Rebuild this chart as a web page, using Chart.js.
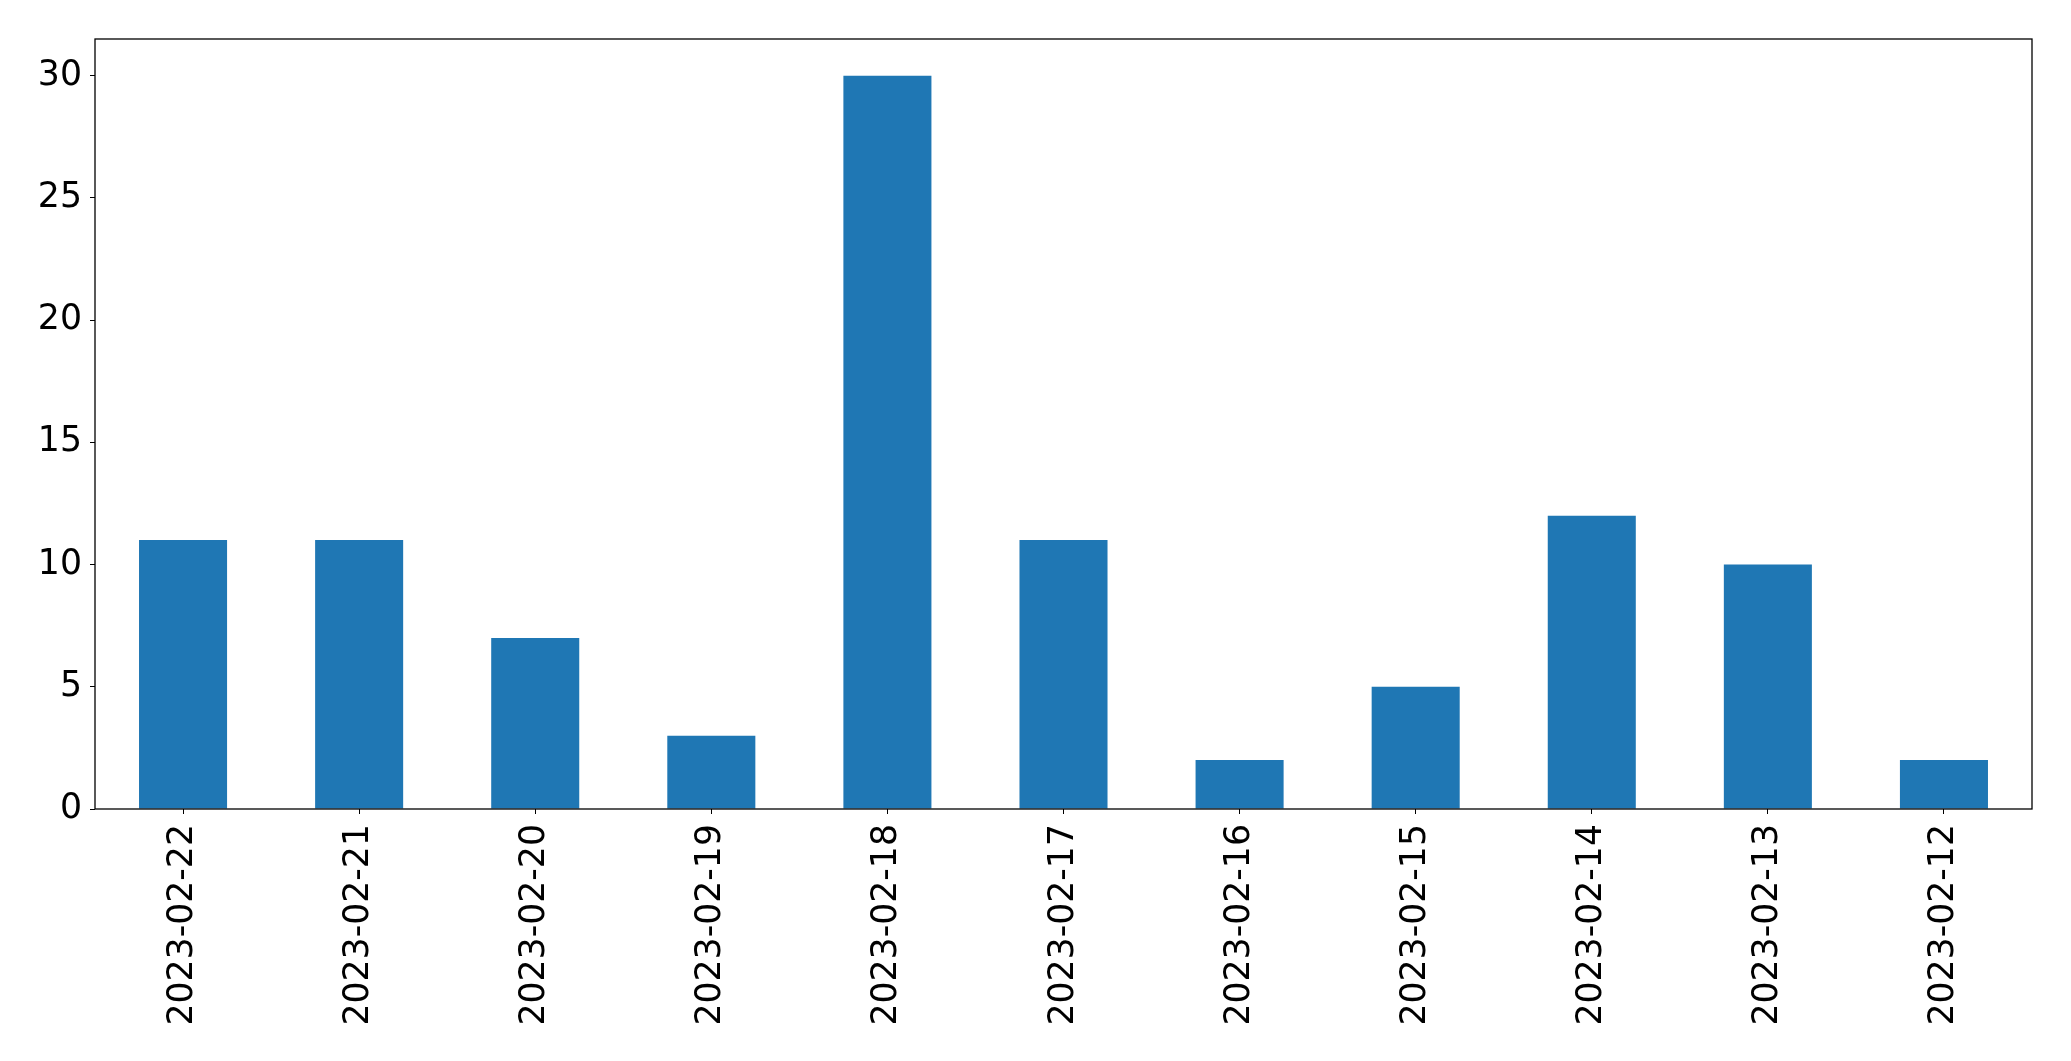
<html>
    <head>
        <script src="https://cdn.jsdelivr.net/npm/chart.js@4.4.0/dist/chart.umd.min.js"></script>
        <style>
            body {
                margin: 0px;
                background: #fff;
            }

            #wrap {
                width: 2071px;
                height: 1061px;
            }
        </style>
    </head>

    <body>
        <div id="wrap">
            <canvas id="chart"></canvas>
        </div>
        <script>
            const dates = ['2023-02-22', '2023-02-21', '2023-02-20', '2023-02-19', '2023-02-18', '2023-02-17',
                '2023-02-16', '2023-02-15', '2023-02-14', '2023-02-13', '2023-02-12']
            const counts = [11, 11, 7, 3, 30, 11, 2, 5, 12, 10, 2]

            const tickFont = { family: 'DejaVu Sans', size: 34.7 }

            // box round the plot area, like matplotlib spines
            const frame = {
                id: 'frame',
                afterDraw(chart) {
                    const { ctx, chartArea: a } = chart
                    ctx.save()
                    ctx.strokeStyle = '#000'
                    ctx.lineWidth = 1.3
                    ctx.strokeRect(a.left, a.top, a.right - a.left, a.bottom - a.top)
                    ctx.restore()
                },
            }

            new Chart(document.getElementById('chart'), {
                type: 'bar',
                data: {
                    labels: dates,
                    datasets: [{
                        data: counts,
                        backgroundColor: '#1f77b4',
                        barPercentage: 0.5,
                        categoryPercentage: 1.0,
                    }],
                },
                options: {
                    responsive: true,
                    maintainAspectRatio: false,
                    animation: false,
                    layout: { padding: { left: 0, top: 39, right: 39, bottom: 0 } },
                    plugins: { legend: { display: false }, tooltip: { enabled: false } },
                    scales: {
                        x: {
                            grid: { display: true, offset: false, drawOnChartArea: false, drawTicks: true, tickLength: 5, color: '#000' },
                            border: { display: false },
                            ticks: { color: '#000', font: tickFont, minRotation: 90, maxRotation: 90, padding: 10, autoSkip: false },
                            afterFit(scale) { scale.height = 1061 - 809 },
                        },
                        y: {
                            min: 0,
                            max: 31.5,
                            grid: { display: true, drawOnChartArea: false, drawTicks: true, tickLength: 5, color: '#000' },
                            border: { display: false },
                            ticks: { color: '#000', font: tickFont, stepSize: 5, includeBounds: false, padding: 8 },
                            afterFit(scale) { scale.width = 95 },
                        },
                    },
                },
                plugins: [frame],
            })
        </script>
    </body>
</html>
